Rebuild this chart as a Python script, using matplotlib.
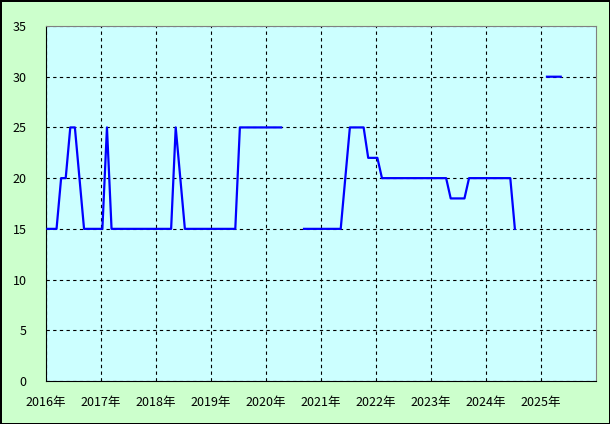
import matplotlib
matplotlib.use('Agg')
import matplotlib.pyplot as plt
import numpy as np
import pandas as pd

plt.rcParams['font.family'] = ['Noto Sans CJK JP', 'DejaVu Sans']

nan = np.nan
# 月ごとの値 (1月〜12月)
y2016 = [15, 15, 15, 20, 20, 25, 25, 20, 15, 15, 15, 15]
y2017 = [15, 25, 15, 15, 15, 15, 15, 15, 15, 15, 15, 15]
y2018 = [15, 15, 15, 15, 25, 20, 15, 15, 15, 15, 15, 15]
y2019 = [15, 15, 15, 15, 15, 15, 25, 25, 25, 25, 25, 25]
y2020 = [25, 25, 25, 25, nan, nan, nan, nan, 15, 15, 15, 15]
y2021 = [15, 15, 15, 15, 15, 20, 25, 25, 25, 25, 22, 22]
y2022 = [22, 20, 20, 20, 20, 20, 20, 20, 20, 20, 20, 20]
y2023 = [20, 20, 20, 20, 18, 18, 18, 18, 20, 20, 20, 20]
y2024 = [20, 20, 20, 20, 20, 20, 15, nan, nan, nan, nan, nan]
y2025 = [nan, 30, 30, 30, 30]

anos = list(range(2016, 2026))
valores = y2016 + y2017 + y2018 + y2019 + y2020 + y2021 + y2022 + y2023 + y2024 + y2025

fechas = pd.date_range('2016-01-01', periods=len(valores), freq='MS') + pd.Timedelta(days=9)
x = fechas.year + (fechas.month - 1 + (fechas.day - 1) / 30) / 12

fig = plt.figure(figsize=(6.1, 4.24), dpi=100, facecolor='#ccffcc')
fig.patch.set_edgecolor('black')
fig.patch.set_linewidth(2)
ax = fig.add_axes([46 / 610, 43 / 424, 550 / 610, 355 / 424])
ax.set_facecolor('#ccffff')

ax.plot(x, valores, color='#0000ff', lw=1.6, zorder=3)

ax.set_xlim(2016, 2026)
ax.set_ylim(0, 35)
ax.set_xticks(anos)
ax.set_xticklabels([f'{a}年' for a in anos])
ax.set_yticks(range(0, 36, 5))
ax.tick_params(length=0, labelsize=9, colors='black')
ax.tick_params(axis='y', pad=14)
ax.tick_params(axis='x', pad=11)
ax.grid(True, color='black', linestyle=(0, (3, 3)), lw=0.8)

for lado in ['left', 'bottom']:
    ax.spines[lado].set_color('black')
for lado in ['top', 'right']:
    ax.spines[lado].set_color('#808080')

fig.savefig('out.png', dpi=100, facecolor=fig.get_facecolor(), edgecolor='black')
